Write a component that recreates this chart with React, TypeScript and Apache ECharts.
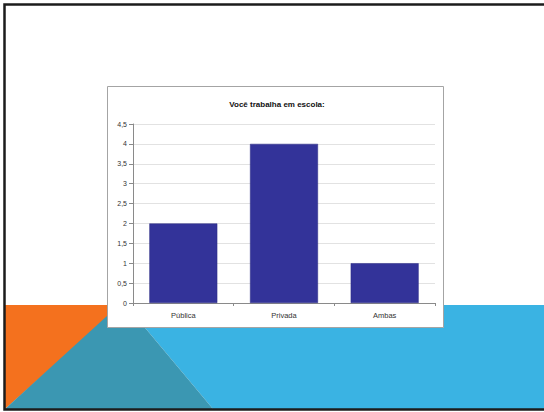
import React, { useEffect, useRef } from "react";
import * as echarts from "echarts";

// Survey answers: "Você trabalha em escola:"
const categories = ["Pública", "Privada", "Ambas"];
const counts = [2, 4, 1];
const yTicks = [0, 0.5, 1, 1.5, 2, 2.5, 3, 3.5, 4, 4.5];

const W = 544;
const H = 412;

export default function App() {
  const ref = useRef<HTMLDivElement>(null);

  useEffect(() => {
    if (!ref.current) return;
    const chart = echarts.init(ref.current, undefined, { renderer: "svg", width: W, height: H });
    const font = "'Liberation Sans', Arial, sans-serif";

    chart.setOption({
      animation: false,
      backgroundColor: "#ffffff",
      textStyle: { fontFamily: font },
      title: {
        text: "Você trabalha em escola:",
        left: 272,
        top: 95,
        textAlign: "center",
        textStyle: { fontSize: 8, fontWeight: "bold", color: "#111", fontFamily: font },
      },
      graphic: [
        // slide decoration along the bottom
        {
          type: "polygon",
          z: -10,
          shape: { points: [[5, 305], [122, 305], [5, 409]] },
          style: { fill: "#f4711e" },
        },
        {
          type: "polygon",
          z: -10,
          shape: { points: [[126, 305], [546, 305], [546, 409], [213, 409]] },
          style: { fill: "#3ab3e3" },
        },
        {
          type: "polygon",
          z: -9,
          shape: { points: [[5, 409], [119, 305], [126, 305], [213, 409]] },
          style: { fill: "#3b97b2" },
        },
        // slide frame
        {
          type: "rect",
          z: -8,
          shape: { x: 4.5, y: 4.5, width: 545, height: 405 },
          style: { fill: "none", stroke: "#1c1c1c", lineWidth: 2.5 },
        },
        // chart panel
        {
          type: "rect",
          z: -7,
          shape: { x: 107.5, y: 86.5, width: 336, height: 241 },
          style: { fill: "#ffffff", stroke: "#a4a4a4", lineWidth: 1 },
        },
      ],
      grid: { left: 133, right: W - 435, top: 124, bottom: H - 303, containLabel: false },
      xAxis: {
        type: "category",
        data: categories,
        axisLine: { show: true, lineStyle: { color: "#8a8a8a", width: 1 } },
        axisTick: { show: true, alignWithLabel: false, length: 3, lineStyle: { color: "#8a8a8a" } },
        axisLabel: { fontSize: 7.5, color: "#333", margin: 8, fontFamily: font },
        splitLine: { show: false },
      },
      yAxis: {
        type: "value",
        min: 0,
        max: yTicks[yTicks.length - 1],
        interval: 0.5,
        axisLine: { show: true, lineStyle: { color: "#8a8a8a", width: 1 } },
        axisTick: { show: true, length: 4, lineStyle: { color: "#8a8a8a" } },
        axisLabel: {
          fontSize: 7,
          color: "#333",
          margin: 6,
          fontFamily: font,
          formatter: (v: number) => String(v).replace(".", ","),
        },
        splitLine: { show: true, lineStyle: { color: "#e2e2e2", width: 1 } },
      },
      series: [
        {
          type: "bar",
          data: counts,
          barWidth: "67.5%",
          itemStyle: { color: "#333399", borderColor: "#2b2b85", borderWidth: 0.5 },
        },
      ],
    });

    return () => chart.dispose();
  }, []);

  return (
    <div style={{ position: "fixed", left: 0, top: 0, width: W, height: H, overflow: "hidden", background: "#fff" }}>
      <div ref={ref} style={{ width: W, height: H }} />
    </div>
  );
}
